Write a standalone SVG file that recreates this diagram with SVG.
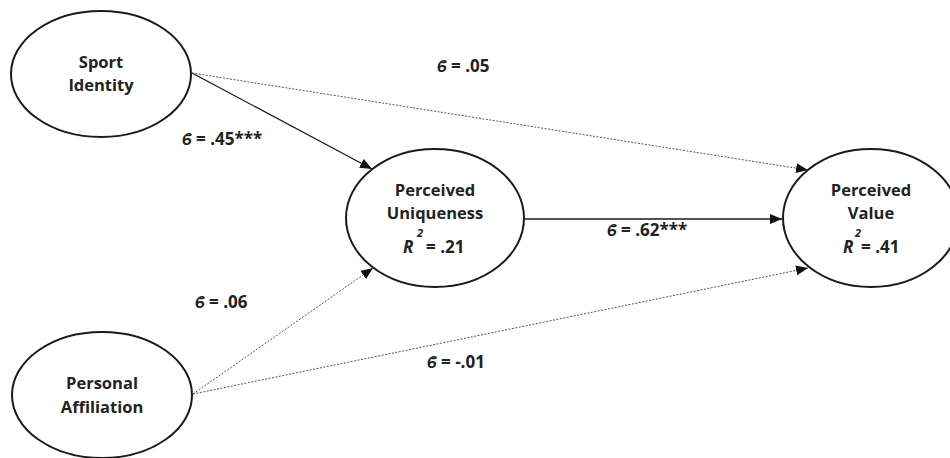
<svg xmlns="http://www.w3.org/2000/svg" width="950" height="458" viewBox="0 0 950 458">
<style>
.node{fill:#fff;stroke:#1a1a1a;stroke-width:2}
.nt{font-family:"Open Sans","Liberation Sans",sans-serif;font-weight:bold;font-size:16.5px;fill:#222;text-anchor:middle}
.lb{font-family:"Open Sans","Liberation Sans",sans-serif;font-weight:bold;font-size:17px;fill:#222}
.it{font-style:italic}
.sup{font-family:"Open Sans","Liberation Sans",sans-serif;font-weight:bold;font-style:italic;font-size:11px;fill:#222}
.solid{stroke:#1a1a1a;stroke-width:1.3;fill:none}
.dot{stroke:#555;stroke-width:1;stroke-dasharray:2 1.5;fill:none}
</style>
<defs>
<marker id="ah" markerUnits="userSpaceOnUse" markerWidth="13" markerHeight="11" refX="12" refY="5" orient="auto">
<path d="M0,0 L12,5 L0,10 z" fill="#111"/>
</marker>
</defs>
<rect width="950" height="458" fill="#fff"/>
<g id="connectors">
<line class="solid" x1="192" y1="73" x2="372" y2="169" marker-end="url(#ah)"/>
<line class="dot" x1="192" y1="73" x2="808" y2="170" marker-end="url(#ah)"/>
<line class="solid" x1="524" y1="219" x2="782" y2="219" marker-end="url(#ah)"/>
<line class="dot" x1="193" y1="394" x2="373" y2="268" marker-end="url(#ah)"/>
<line class="dot" x1="193" y1="394" x2="808" y2="268" marker-end="url(#ah)"/>
</g>
<g id="sport-identity">
<ellipse class="node" cx="101" cy="74" rx="90" ry="63"/>
<text class="nt" x="101" y="68">Sport</text>
<text class="nt" x="101" y="91">Identity</text>
</g>
<g id="personal-affiliation">
<ellipse class="node" cx="102" cy="395" rx="90" ry="63"/>
<text class="nt" x="102" y="389">Personal</text>
<text class="nt" x="102" y="413">Affiliation</text>
</g>
<g id="perceived-uniqueness">
<ellipse class="node" cx="435" cy="218" rx="89" ry="69"/>
<text class="nt" x="435" y="196">Perceived</text>
<text class="nt" x="435" y="219">Uniqueness</text>
<text class="lb" x="403" y="253"><tspan class="it">R</tspan></text>
<text class="sup" x="417" y="237">2</text>
<text class="lb" x="426" y="253">= .21</text>
</g>
<g id="perceived-value">
<ellipse class="node" cx="871" cy="218" rx="88" ry="69"/>
<text class="nt" x="871" y="196">Perceived</text>
<text class="nt" x="871" y="219">Value</text>
<text class="lb" x="843" y="253"><tspan class="it">R</tspan></text>
<text class="sup" x="855" y="237">2</text>
<text class="lb" x="861" y="253">= .41</text>
</g>
<g id="labels">
<text class="lb" x="437" y="72"><tspan class="it">ϐ</tspan> = .05</text>
<text class="lb" x="182" y="145"><tspan class="it">ϐ</tspan> = .45***</text>
<text class="lb" x="607" y="236"><tspan class="it">ϐ</tspan> = .62***</text>
<text class="lb" x="195" y="308"><tspan class="it">ϐ</tspan> = .06</text>
<text class="lb" x="427" y="368"><tspan class="it">ϐ</tspan> = -.01</text>
</g>
</svg>
